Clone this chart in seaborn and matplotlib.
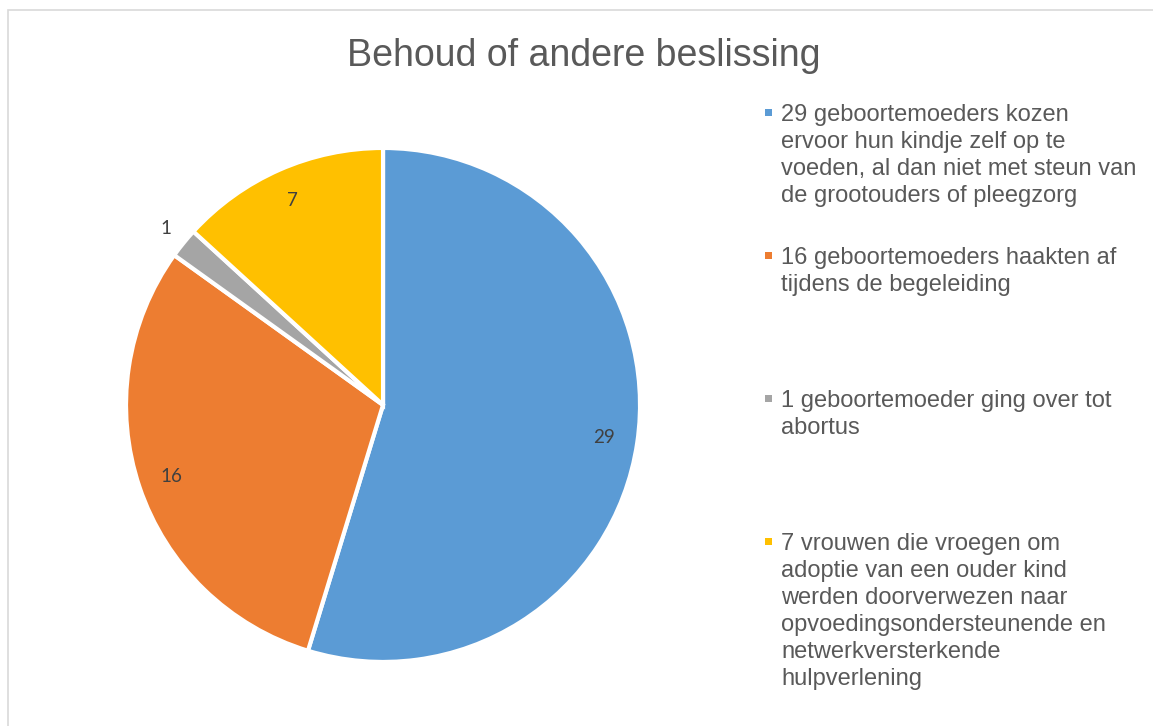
import matplotlib
matplotlib.use("Agg")
import numpy as np
import matplotlib.pyplot as plt
import seaborn as sns
from matplotlib.patches import Rectangle

# data
counts = [29, 16, 1, 7]
legend_labels = [
    "29 geboortemoeders kozen\nervoor hun kindje zelf op te\nvoeden, al dan niet met steun van\nde grootouders of pleegzorg",
    "16 geboortemoeders haakten af\ntijdens de begeleiding",
    "1 geboortemoeder ging over tot\nabortus",
    "7 vrouwen die vroegen om\nadoptie van een ouder kind\nwerden doorverwezen naar\nopvoedingsondersteunende en\nnetwerkversterkende\nhulpverlening",
]
title = "Behoud of andere beslissing"

sns.set_theme(style="white")
plt.rcParams['font.family'] = ['Liberation Sans', 'DejaVu Sans']

colors = ["#5B9BD5", "#ED7D31", "#A5A5A5", "#FFC000"]
text_grey = "#595959"

fig = plt.figure(figsize=(11.53, 7.26), dpi=100)

# pie axes
ax = fig.add_axes([0.1093, 0.0882, 0.4458, 0.708])
wedges, _ = ax.pie(
    counts,
    colors=colors,
    startangle=90,
    counterclock=False,
    wedgeprops=dict(edgecolor="white", linewidth=3),
)
ax.set_xlim(-1, 1)
ax.set_ylim(-1, 1)
ax.set_aspect("auto")

# data labels
for w, n in zip(wedges, counts):
    mid = np.deg2rad((w.theta1 + w.theta2) / 2)
    dist = 1.09 if n / sum(counts) < 0.05 else 0.87
    ax.text(dist * np.cos(mid), dist * np.sin(mid), str(n),
            ha="center", va="center", fontsize=13.5,
            color="#404040", family=["Lato", "DejaVu Sans"])

fig.text(0.506, 1 - 56 / 726, title, ha="center", va="center",
         fontsize=27, color=text_grey)

# legend (evenly spaced entries as in the original)
y_tops = [104, 247, 390, 533]
for lab, col, yt in zip(legend_labels, colors, y_tops):
    fig.patches.append(Rectangle((765 / 1153, 1 - (yt + 12) / 726), 7 / 1153, 7 / 726,
                                 transform=fig.transFigure, facecolor=col,
                                 edgecolor="none"))
    fig.text(781 / 1153, 1 - yt / 726, lab, ha="left", va="top",
             fontsize=17, color=text_grey, linespacing=1.3)

# chart border (only left / top visible in crop)
fig.patches.append(Rectangle((8 / 1153, -0.1), 1.2, 1.1 - 10 / 726,
                             transform=fig.transFigure, fill=False,
                             edgecolor="#D9D9D9", linewidth=1.2))

fig.savefig("out.png", dpi=100)
